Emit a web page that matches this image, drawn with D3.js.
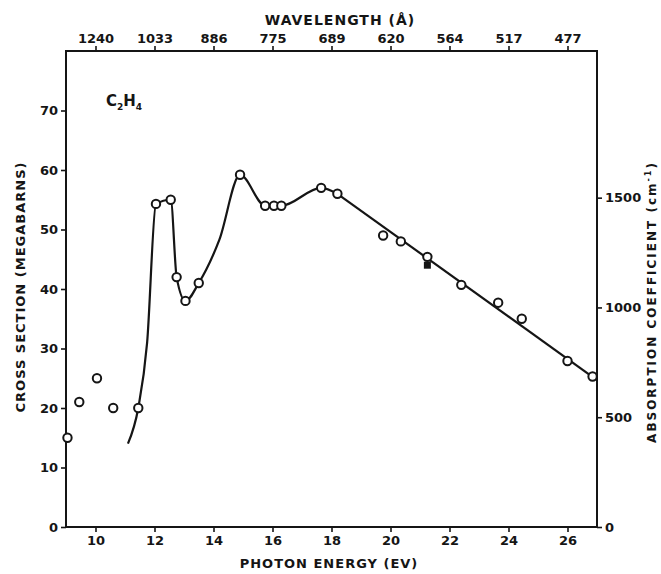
<!DOCTYPE html>
<html>
<head>
<meta charset="utf-8">
<script src="https://cdn.jsdelivr.net/npm/d3@7"></script>
<style>
  html, body { margin: 0; padding: 0; background: #fff; }
  svg { display: block; }
  text { font-family: "DejaVu Sans", sans-serif; font-weight: bold; fill: #151515; }
</style>
</head>
<body>
<svg id="chart" width="661" height="574"></svg>
<script>
// Measured photoabsorption cross section of ethylene (open circles)
const pointEnergy  = [9.05, 9.45, 10.05, 10.6, 11.45, 12.05, 12.55, 12.75, 13.05, 13.5, 14.9, 15.75, 16.05, 16.3, 17.65, 18.2, 19.75, 20.35, 21.25, 22.4, 23.65, 24.45, 26.0, 26.85];
const pointSection = [15, 21, 25, 20, 20, 54.3, 55, 42, 38, 41, 59.2, 54, 54, 54, 57, 56, 49, 48, 45.4, 40.7, 37.7, 35, 27.9, 25.3];

// Single filled-square measurement
const squareEnergy  = [21.25];
const squareSection = [44];

// Smooth curve through the structured region
const curveEnergy  = [11.1, 11.45, 11.75, 12.05, 12.55, 12.75, 13.05, 13.5, 14.2, 14.9, 15.75, 16.3, 17.65, 18.2];
const curveSection = [14, 20, 31, 54.3, 55, 42, 38, 41, 48.3, 59.2, 54, 54, 57, 56];

// Straight continuum fit above 18 eV
const lineEnergy  = [18.2, 27.0];
const lineSection = [56, 24.7];

// Axis ticks
const energyTicks      = [10, 12, 14, 16, 18, 20, 22, 24, 26];
const wavelengthLabels = ["1240", "1033", "886", "775", "689", "620", "564", "517", "477"];
const sectionTicks     = [0, 10, 20, 30, 40, 50, 60, 70];
const absorptionTicks  = [0, 500, 1000, 1500];

// cm^-1 per megabarn at standard density
const absPerMb = 27.1;

const svg = d3.select("#chart");
const plotLeft = 66, plotRight = 597, plotTop = 51, plotBottom = 527;
const ink = "#151515";

const x  = d3.scaleLinear().domain([9, 27]).range([plotLeft, plotRight]);
const y  = d3.scaleLinear().domain([0, 80]).range([plotBottom, plotTop]);
const yR = d3.scaleLinear().domain([0, 80 * absPerMb]).range([plotBottom, plotTop]);

function styleAxis(g) {
  g.select(".domain").remove();
  g.selectAll(".tick line").attr("stroke", ink).attr("stroke-width", 1.6);
  g.selectAll(".tick text").attr("font-size", 13).attr("font-family", "DejaVu Sans").attr("font-weight", "bold").attr("fill", ink);
}

// Bottom: photon energy
svg.append("g")
  .attr("transform", `translate(0,${plotBottom})`)
  .call(d3.axisBottom(x).tickValues(energyTicks).tickSize(5).tickPadding(4).tickFormat(d3.format("d")))
  .call(styleAxis);

// Top: wavelength
svg.append("g")
  .attr("transform", `translate(0,${plotTop})`)
  .call(d3.axisTop(x).tickValues(energyTicks).tickSize(5).tickPadding(3)
    .tickFormat((d, i) => wavelengthLabels[i]))
  .call(styleAxis);

// Left: cross section
svg.append("g")
  .attr("transform", `translate(${plotLeft},0)`)
  .call(d3.axisLeft(y).tickValues(sectionTicks).tickSize(5).tickPadding(3).tickFormat(d3.format("d")))
  .call(styleAxis);

// Right: absorption coefficient
svg.append("g")
  .attr("transform", `translate(${plotRight},0)`)
  .call(d3.axisRight(yR).tickValues(absorptionTicks).tickSize(5).tickPadding(3).tickFormat(d3.format("d")))
  .call(styleAxis);

// Plot frame
svg.append("rect")
  .attr("x", plotLeft).attr("y", plotTop)
  .attr("width", plotRight - plotLeft).attr("height", plotBottom - plotTop)
  .attr("fill", "none").attr("stroke", ink).attr("stroke-width", 2);

// Axis titles
svg.append("text")
  .attr("x", 340).attr("y", 25)
  .attr("text-anchor", "middle").attr("font-size", 14).attr("letter-spacing", 1)
  .text("WAVELENGTH (Å)");

svg.append("text")
  .attr("x", 329).attr("y", 568)
  .attr("text-anchor", "middle").attr("font-size", 13).attr("letter-spacing", 1)
  .text("PHOTON ENERGY (EV)");

svg.append("text")
  .attr("transform", "translate(25,287) rotate(-90)")
  .attr("text-anchor", "middle").attr("font-size", 13).attr("letter-spacing", 1)
  .text("CROSS SECTION (MEGABARNS)");

const rt = svg.append("text")
  .attr("transform", "translate(656,302) rotate(-90)")
  .attr("text-anchor", "middle").attr("font-size", 12).attr("letter-spacing", 2);
rt.append("tspan").text("ABSORPTION COEFFICIENT (cm");
rt.append("tspan").attr("dy", -5).attr("font-size", 8).text("-1");
rt.append("tspan").attr("dy", 5).text(")");

// Molecule label
const lbl = svg.append("text").attr("x", 106).attr("y", 106).attr("font-size", 15);
lbl.append("tspan").text("C");
lbl.append("tspan").attr("dy", 4).attr("font-size", 9).text("2");
lbl.append("tspan").attr("dy", -4).text("H");
lbl.append("tspan").attr("dy", 4).attr("font-size", 9).text("4");

// Curves
const lineGen = d3.line().x(d => x(d[0])).y(d => y(d[1]));
svg.append("path")
  .datum(curveEnergy.map((e, i) => [e, curveSection[i]]))
  .attr("fill", "none").attr("stroke", ink).attr("stroke-width", 2.2)
  .attr("d", lineGen.curve(d3.curveMonotoneX));
svg.append("path")
  .datum(lineEnergy.map((e, i) => [e, lineSection[i]]))
  .attr("fill", "none").attr("stroke", ink).attr("stroke-width", 2.2)
  .attr("d", lineGen.curve(d3.curveLinear));

// Open circles
const pts = pointEnergy.map((e, i) => [e, pointSection[i]]);
svg.append("g").selectAll("circle")
  .data(pts).join("circle")
  .attr("cx", d => x(d[0])).attr("cy", d => y(d[1])).attr("r", 4.2)
  .attr("fill", "#fff").attr("stroke", ink).attr("stroke-width", 2);

// Filled square
const sq = squareEnergy.map((e, i) => [e, squareSection[i]]);
svg.append("g").selectAll("rect")
  .data(sq).join("rect")
  .attr("x", d => x(d[0]) - 3.5).attr("y", d => y(d[1]) - 3.5)
  .attr("width", 7).attr("height", 7).attr("fill", ink);
</script>
</body>
</html>
